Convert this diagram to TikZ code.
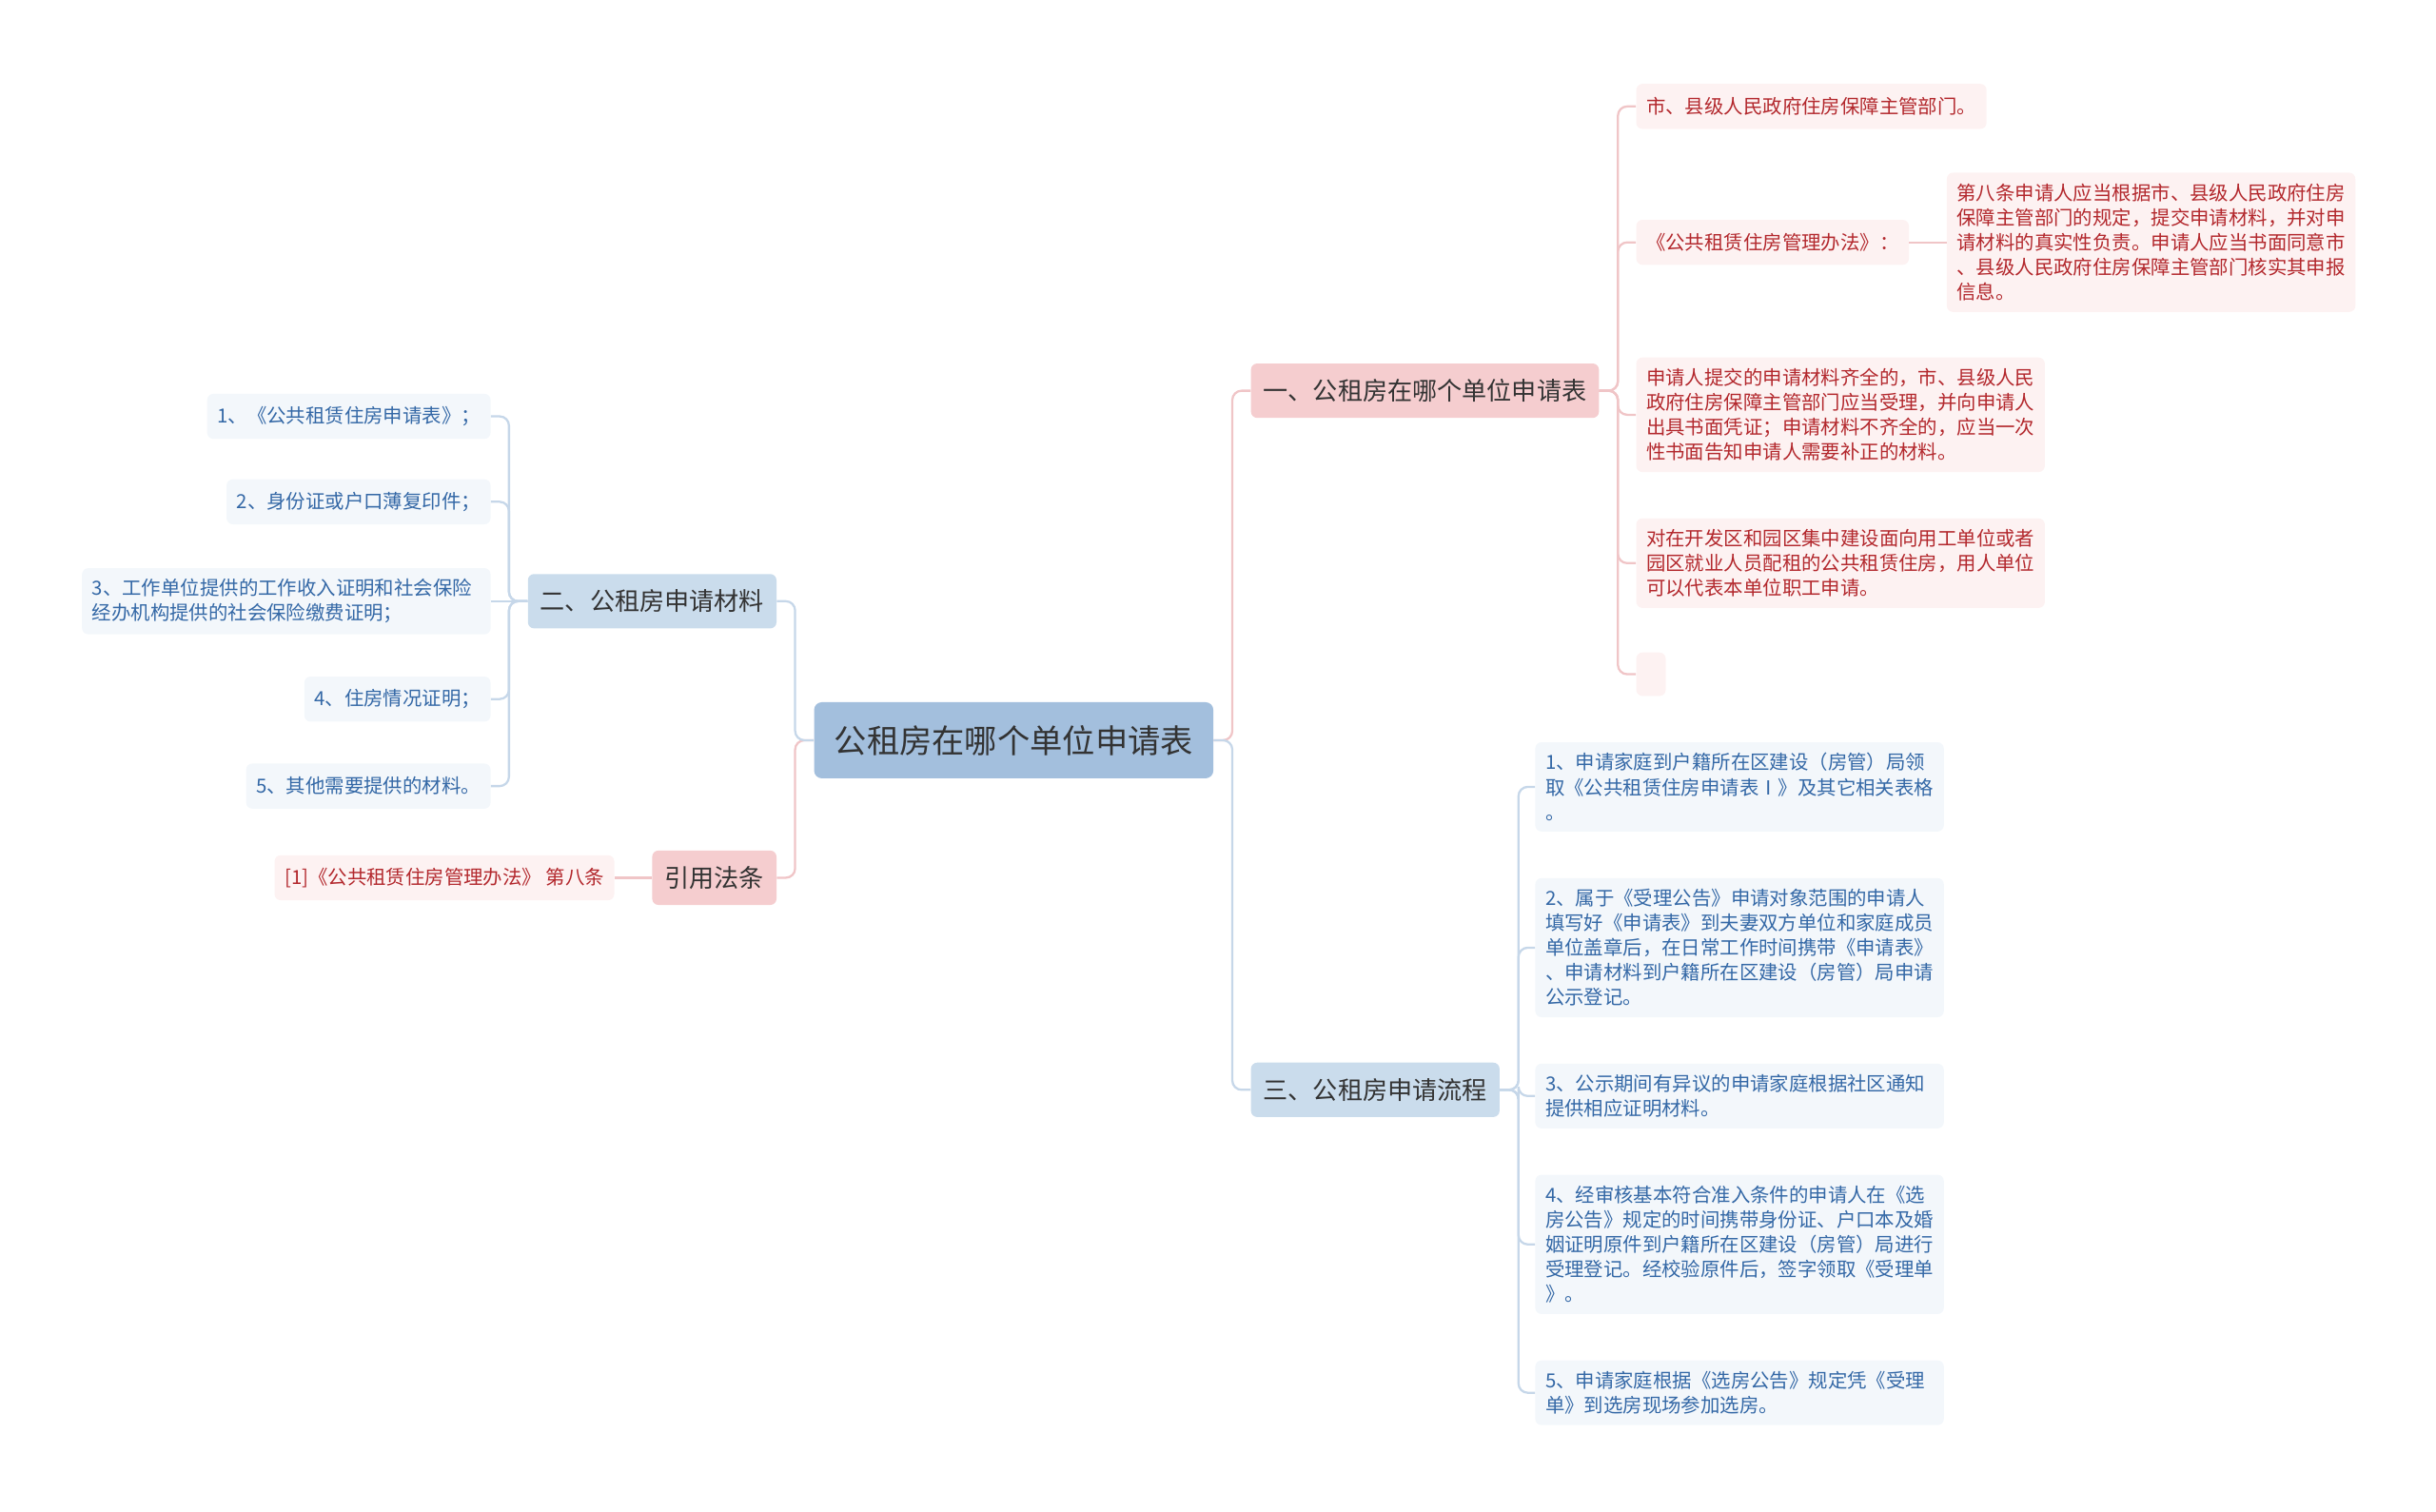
\documentclass[tikz,border=0pt]{standalone}
\usepackage{fontspec}
\setmainfont{Noto Sans CJK SC}
\usepackage{tikz}
\usetikzlibrary{positioning}
\usepackage{xcolor}

\definecolor{rootblue}{HTML}{A3BFDD}
\definecolor{brpink}{HTML}{F5CDCF}
\definecolor{brblue}{HTML}{CADCEC}
\definecolor{leafpink}{HTML}{FDF2F2}
\definecolor{leafblue}{HTML}{F3F7FB}
\definecolor{redtext}{HTML}{B3282D}
\definecolor{bluetext}{HTML}{3468A6}
\definecolor{darktext}{HTML}{333333}
\definecolor{linepink}{HTML}{F0C5C7}
\definecolor{lineblue}{HTML}{C6D7E9}

\begin{document}
\begin{tikzpicture}[%
        x=1pt, y=-1pt,              % one unit per pixel, top-down
        node distance=24pt,         % gap between neighbouring boxes
    ]
    \tikzset{
        base/.style={rounded corners=4pt, align=left, inner xsep=6.5pt,
            inner ysep=7pt, minimum height=29pt},
        rootbox/.style={base, fill=rootblue, text=darktext, rounded corners=5pt,
            font=\fontsize{21}{26}\selectfont, minimum height=49pt, inner xsep=13pt},
        pinkbr/.style={base, fill=brpink, text=darktext,
            font=\fontsize{16}{20}\selectfont, minimum height=35pt, inner xsep=8pt},
        bluebr/.style={pinkbr, fill=brblue},
        pinkleaf/.style={base, fill=leafpink, text=redtext,
            font=\fontsize{12.5}{16}\selectfont},
        blueleaf/.style={pinkleaf, fill=leafblue, text=bluetext},
        % wrapped boxes share one text width
        wide/.style={text width=250pt},
        % -------------------------------------------------
        % Connector line styles for the two colour groups
        pinkline/.style={draw=linepink, line width=1.4pt, rounded corners=6pt},
        blueline/.style={draw=lineblue, line width=1.4pt, rounded corners=6pt}
    }
    \useasboundingbox (0,0) rectangle (1568,973);
    %%% Blocks
    \node [rootbox] (root) at (652.5,476.5) {公租房在哪个单位申请表};
    \node [pinkbr, anchor=west] (one) at (805,251.5) {一、公租房在哪个单位申请表};
    \node [bluebr, anchor=east] (two) at (500,387) {二、公租房申请材料};
    \node [pinkbr, anchor=east] (law) at (500,565) {引用法条};
    \node [bluebr, anchor=west] (three) at (805,701.5) {三、公租房申请流程};
    % -- leaves of one
    \node [pinkleaf, anchor=west] (l1) at (1053,68.5) {市、县级人民政府住房保障主管部门。};
    \node [pinkleaf, anchor=west] (l2) at (1053,156) {《公共租赁住房管理办法》：};
    \node [pinkleaf, wide, right=of l2] (l2a) {第八条申请人应当根据市、县级人民政府住房\\保障主管部门的规定，提交申请材料，并对申\\请材料的真实性负责。申请人应当书面同意市\\、县级人民政府住房保障主管部门核实其申报\\信息。};
    \node [pinkleaf, wide, anchor=west] (l3) at (1053,267) {申请人提交的申请材料齐全的，市、县级人民\\政府住房保障主管部门应当受理，并向申请人\\出具书面凭证；申请材料不齐全的，应当一次\\性书面告知申请人需要补正的材料。};
    \node [pinkleaf, wide, anchor=west] (l4) at (1053,362.5) {对在开发区和园区集中建设面向用工单位或者\\园区就业人员配租的公共租赁住房，用人单位\\可以代表本单位职工申请。};
    \node [pinkleaf, anchor=west, minimum width=19pt, minimum height=28pt, inner sep=0pt] (l5) at (1053,434) {};
    % -- leaves of two
    \node [blueleaf, anchor=east] (m1) at (316,268) {1、《公共租赁住房申请表》；};
    \node [blueleaf, anchor=east] (m2) at (316,323) {2、身份证或户口薄复印件；};
    \node [blueleaf, wide, anchor=east] (m3) at (316,387) {3、工作单位提供的工作收入证明和社会保险\\经办机构提供的社会保险缴费证明；};
    \node [blueleaf, anchor=east] (m4) at (316,450) {4、住房情况证明；};
    \node [blueleaf, anchor=east] (m5) at (316,506) {5、其他需要提供的材料。};
    % -- leaf of law
    \node [pinkleaf, left=of law] (cite) {[1]《公共租赁住房管理办法》 第八条};
    % -- leaves of three
    \node [blueleaf, wide, anchor=west] (p1) at (988,506.5) {1、申请家庭到户籍所在区建设（房管）局领\\取《公共租赁住房申请表Ⅰ》及其它相关表格\\。};
    \node [blueleaf, wide, anchor=west] (p2) at (988,610) {2、属于《受理公告》申请对象范围的申请人\\填写好《申请表》到夫妻双方单位和家庭成员\\单位盖章后，在日常工作时间携带《申请表》\\、申请材料到户籍所在区建设（房管）局申请\\公示登记。};
    \node [blueleaf, wide, anchor=west] (p3) at (988,705.5) {3、公示期间有异议的申请家庭根据社区通知\\提供相应证明材料。};
    \node [blueleaf, wide, anchor=west] (p4) at (988,801) {4、经审核基本符合准入条件的申请人在《选\\房公告》规定的时间携带身份证、户口本及婚\\姻证明原件到户籍所在区建设（房管）局进行\\受理登记。经校验原件后，签字领取《受理单\\》。};
    \node [blueleaf, wide, anchor=west] (p5) at (988,896.5) {5、申请家庭根据《选房公告》规定凭《受理\\单》到选房现场参加选房。};
    %%% Nodes
    \coordinate (tr) at ([xshift=12pt]root.east);
    \coordinate (tl) at ([xshift=-12pt]root.west);
    \coordinate (t1) at ([xshift=12pt]one.east);
    \coordinate (t2) at ([xshift=-12pt]two.west);
    \coordinate (t3) at ([xshift=12pt]three.east);
    %%% Connectors
    % -- root
    \draw [pinkline] (root.east) -- (tr) |- (one.west);
    \draw [blueline] (root.east) -- (tr) |- (three.west);
    \draw [pinkline] (root.west) -- (tl) |- (law.east);
    \draw [blueline] (root.west) -- (tl) |- (two.east);
    % -- one
    \draw [pinkline] (one.east) -- (t1) |- (l1.west);
    \draw [pinkline] (one.east) -- (t1) |- (l2.west);
    \draw [pinkline] (one.east) -- (t1) |- (l3.west);
    \draw [pinkline] (one.east) -- (t1) |- (l4.west);
    \draw [pinkline] (one.east) -- (t1) |- (l5.west);
    \draw [pinkline] (l2.east) -- (l2a.west);
    % -- two
    \draw [blueline] (two.west) -- (t2) |- (m1.east);
    \draw [blueline] (two.west) -- (t2) |- (m2.east);
    \draw [blueline] (two.west) -- (m3.east);
    \draw [blueline] (two.west) -- (t2) |- (m4.east);
    \draw [blueline] (two.west) -- (t2) |- (m5.east);
    % -- law
    \draw [pinkline] (law.west) -- (cite.east);
    % -- three
    \draw [blueline] (three.east) -- (t3) |- (p1.west);
    \draw [blueline] (three.east) -- (t3) |- (p2.west);
    \draw [blueline] (three.east) -- (t3) |- (p3.west);
    \draw [blueline] (three.east) -- (t3) |- (p4.west);
    \draw [blueline] (three.east) -- (t3) |- (p5.west);
\end{tikzpicture}
\end{document}
